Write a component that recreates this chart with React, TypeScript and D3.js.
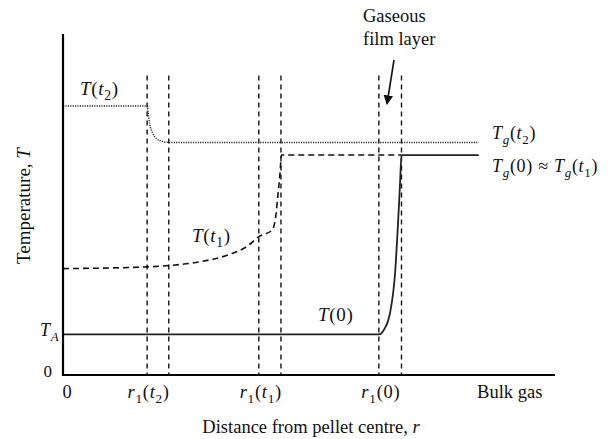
import React from "react";
import * as d3 from "d3";

const W = 608;
const H = 439;

// Radial positions (arbitrary units from pellet centre) of the reaction front boundaries
const frontPairs: [number, number][] = [
  [1.71, 2.15], // r1(t2)
  [3.98, 4.43], // r1(t1)
  [6.42, 6.88], // r1(0)
];
const frontTop = 8.78;

// Temperature profiles, [r, T] in arbitrary units
const profileT2: [number, number][] = [
  [0, 7.89], [1.71, 7.89], [1.73, 7.7], [1.76, 7.38], [1.82, 7.1], [1.9, 6.93],
  [2.02, 6.85], [2.15, 6.82], [8.45, 6.82],
];
const profileT1: [number, number][] = [
  [0, 3.12], [1.71, 3.17], [2.15, 3.21], [2.78, 3.32], [3.39, 3.54], [3.74, 3.77],
  [3.98, 4.06], [4.25, 4.25], [4.33, 4.72], [4.37, 5.3], [4.41, 5.9], [4.44, 6.45],
  [6.88, 6.45],
];
const profileT0: [number, number][] = [
  [0, 1.19], [6.42, 1.19], [6.52, 1.32], [6.65, 1.84], [6.75, 3.0], [6.81, 4.46],
  [6.85, 5.6], [6.88, 6.45], [8.45, 6.45],
];

// Math text pieces: [text, italic, subscript]
type Part = [string, boolean, boolean];

const xTicks: { r: number; parts: Part[] }[] = [
  { r: 0.09, parts: [["0", false, false]] },
  { r: 1.74, parts: [["r", true, false], ["1", false, true], ["(", false, false], ["t", true, false], ["2", false, true], [")", false, false]] },
  { r: 4.02, parts: [["r", true, false], ["1", false, true], ["(", false, false], ["t", true, false], ["1", false, true], [")", false, false]] },
  { r: 6.46, parts: [["r", true, false], ["1", false, true], ["(0)", false, false]] },
];
const bulkLabel = "Bulk gas";
const bulkR = 9.08;
const tA = 1.19;

const FONT = "Liberation Serif";

function MathText({ x, y, parts, anchor = "start", size = 18 }: { x: number; y: number; parts: Part[]; anchor?: string; size?: number }) {
  let prevSub = false;
  return (
    <text x={x} y={y} textAnchor={anchor as any} fontFamily={FONT} fontSize={size} fill="#111" letterSpacing={0.7}>
      {parts.map(([s, italic, sub], i) => {
        let dy = 0;
        if (sub && !prevSub) dy = size * 0.25;
        else if (!sub && prevSub) dy = -size * 0.25;
        prevSub = sub;
        return (
          <tspan key={i} dy={dy} fontStyle={italic ? "italic" : "normal"} fontSize={sub ? size * 0.72 : size}>
            {s}
          </tspan>
        );
      })}
    </text>
  );
}

export default function App() {
  const x = d3.scaleLinear().domain([0, 10]).range([63, 555]);
  const y = d3.scaleLinear().domain([0, 10]).range([375, 34]);

  const curve = d3.line<[number, number]>().x((d) => x(d[0])).y((d) => y(d[1])).curve(d3.curveMonotoneX);

  const T: Part = ["T", true, false];

  return (
    <svg width={W} height={H} style={{ position: "absolute", left: 0, top: 0, background: "#fff" }}>
      <defs>
        <marker id="arrowHead" viewBox="0 0 10 10" refX="9" refY="5" markerWidth="6" markerHeight="6" orient="auto">
          <path d="M0,0 L10,5 L0,10 z" fill="#111" />
        </marker>
      </defs>

      {/* Reaction-front boundaries */}
      {frontPairs.flat().map((r, i) => (
        <line key={i} x1={x(r)} x2={x(r)} y1={y(frontTop)} y2={y(0)} stroke="#111" strokeWidth={1.4} strokeDasharray="5,4" />
      ))}

      {/* Temperature profiles */}
      <path d={curve(profileT2) ?? ""} fill="none" stroke="#222" strokeWidth={1.4} strokeDasharray="1.2,1.2" />
      <path d={curve(profileT1) ?? ""} fill="none" stroke="#111" strokeWidth={1.6} strokeDasharray="6,4" />
      <path d={curve(profileT0) ?? ""} fill="none" stroke="#222" strokeWidth={1.8} />

      {/* Axes */}
      <line x1={x(0)} x2={x(0)} y1={y(10)} y2={y(0) + 1} stroke="#000" strokeWidth={2.2} />
      <line x1={x(0) - 1} x2={x(10)} y1={y(0)} y2={y(0)} stroke="#000" strokeWidth={2.2} />

      {/* Y labels */}
      <text x={52} y={y(0) + 2} textAnchor="end" fontFamily={FONT} fontSize={17} fill="#111">0</text>
      <MathText x={40} y={y(tA) + 2} size={18} parts={[T, ["A", true, true]]} />
      <text
        transform={`translate(30,${206}) rotate(-90)`}
        textAnchor="middle"
        fontFamily={FONT}
        fontSize={19}
        fill="#111"
      >
        Temperature, <tspan fontStyle="italic">T</tspan>
      </text>

      {/* X tick labels */}
      {xTicks.map((t, i) => (
        <MathText key={i} x={x(t.r)} y={y(0) + 23} anchor="middle" size={18.5} parts={t.parts} />
      ))}
      <text x={x(bulkR)} y={y(0) + 23} textAnchor="middle" fontFamily={FONT} fontSize={18.5} fill="#111">{bulkLabel}</text>
      <text x={311} y={y(0) + 58} textAnchor="middle" fontFamily={FONT} fontSize={18.5} fill="#111">
        Distance from pellet centre, <tspan fontStyle="italic">r</tspan>
      </text>

      {/* Profile labels */}
      <MathText x={80} y={95} size={19} parts={[T, ["(", false, false], ["t", true, false], ["2", false, true], [")", false, false]]} />
      <MathText x={192} y={242} size={19} parts={[T, ["(", false, false], ["t", true, false], ["1", false, true], [")", false, false]]} />
      <MathText x={318} y={321} size={19} parts={[T, ["(0)", false, false]]} />
      <MathText x={492} y={139} parts={[T, ["g", true, true], ["(", false, false], ["t", true, false], ["2", false, true], [")", false, false]]} />
      <MathText
        x={492}
        y={172}
        parts={[T, ["g", true, true], ["(0) \u2248 ", false, false], T, ["g", true, true], ["(", false, false], ["t", true, false], ["1", false, true], [")", false, false]]}
      />

      {/* Gaseous film annotation */}
      <text x={363} y={22} fontFamily={FONT} fontSize={18.5} fill="#111">Gaseous</text>
      <text x={363} y={45} fontFamily={FONT} fontSize={18.5} fill="#111">film layer</text>
      <line x1={394} y1={60} x2={387} y2={104} stroke="#111" strokeWidth={1.6} markerEnd="url(#arrowHead)" />
    </svg>
  );
}
